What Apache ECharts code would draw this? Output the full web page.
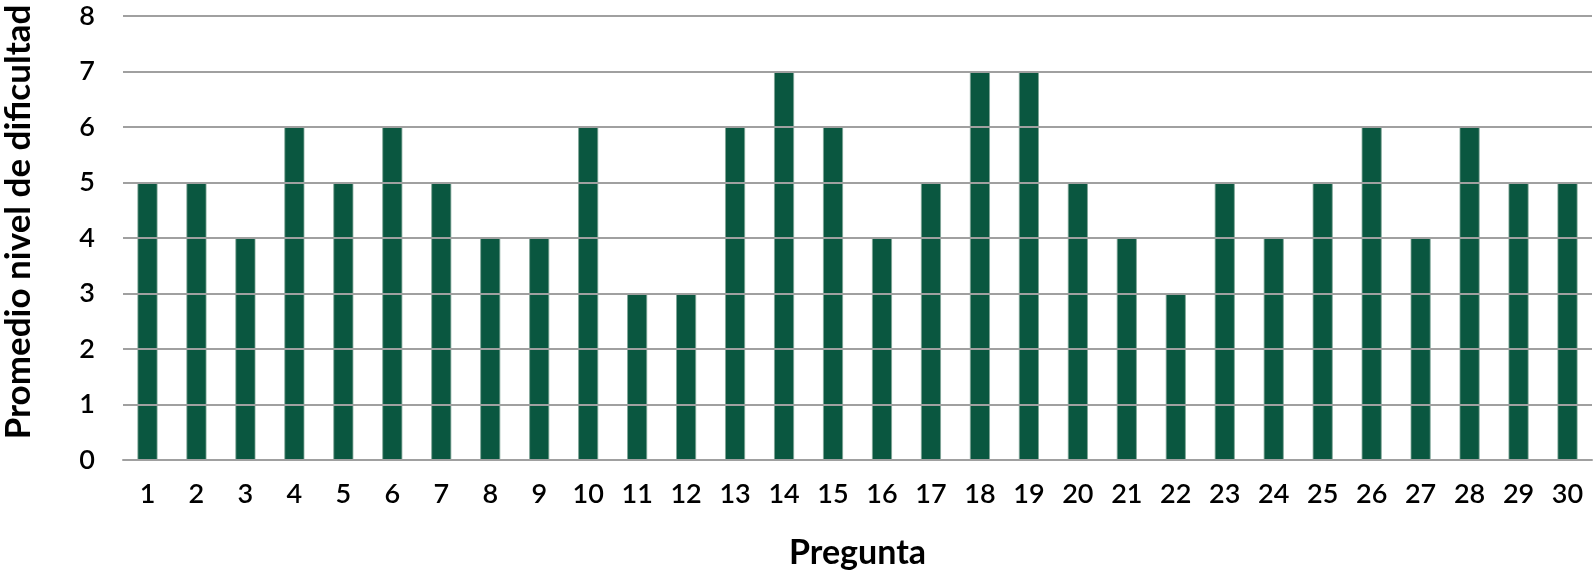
<!DOCTYPE html>
<html>
<head>
<meta charset="utf-8">
<script src="https://cdn.jsdelivr.net/npm/echarts@6/dist/echarts.min.js"></script>
<style>
html,body{margin:0;padding:0;background:#fff;overflow:hidden;width:100%;height:100%;}
#chart{width:1595px;height:574px;}
</style>
</head>
<body>
<div id="chart"></div>
<script>
var categories = ['1','2','3','4','5','6','7','8','9','10','11','12','13','14','15','16','17','18','19','20','21','22','23','24','25','26','27','28','29','30'];
var values = [5,5,4,6,5,6,5,4,4,6,3,3,6,7,6,4,5,7,7,5,4,3,5,4,5,6,4,6,5,5];
var yTicks = [0,1,2,3,4,5,6,7,8];
var xTitle = 'Pregunta';
var yTitle = 'Promedio nivel de dificultad';

var chart = echarts.init(document.getElementById('chart'));
var FONT = 'Lato';
chart.setOption({
  animation: false,
  grid: {left: 123, right: 3, top: 16, bottom: 114, containLabel: false, outerBoundsMode: 'none'},
  graphic: [{
    type: 'text',
    x: 19,
    y: 222,
    rotation: Math.PI / 2,
    style: {
      text: yTitle,
      fontFamily: FONT,
      fontWeight: 'bold',
      fontSize: 35,
      fill: '#000',
      textAlign: 'center',
      textVerticalAlign: 'middle'
    }
  }],
  xAxis: {
    type: 'category',
    data: categories,
    name: xTitle,
    nameLocation: 'middle',
    nameGap: 76,
    nameTextStyle: {fontFamily: FONT, fontWeight: 'bold', fontSize: 34, color: '#000'},
    axisLine: {lineStyle: {color: '#a0a0a0', width: 2}},
    axisTick: {show: false},
    axisLabel: {fontFamily: FONT, fontWeight: 600, fontSize: 27, color: '#000', margin: 21, interval: 0},
    z: 3
  },
  yAxis: {
    type: 'value',
    min: yTicks[0],
    max: yTicks[yTicks.length - 1],
    interval: 1,
    axisLine: {show: false},
    axisTick: {show: false},
    axisLabel: {fontFamily: FONT, fontWeight: 600, fontSize: 27, color: '#000', margin: 28},
    splitLine: {lineStyle: {color: '#a0a0a0', width: 2}},
    z: 3
  },
  series: [{
    type: 'bar',
    data: values,
    barWidth: 20,
    itemStyle: {color: '#0a5740', borderColor: '#7fa596', borderWidth: 0.8},
    z: 2
  }]
});
</script>
</body>
</html>
